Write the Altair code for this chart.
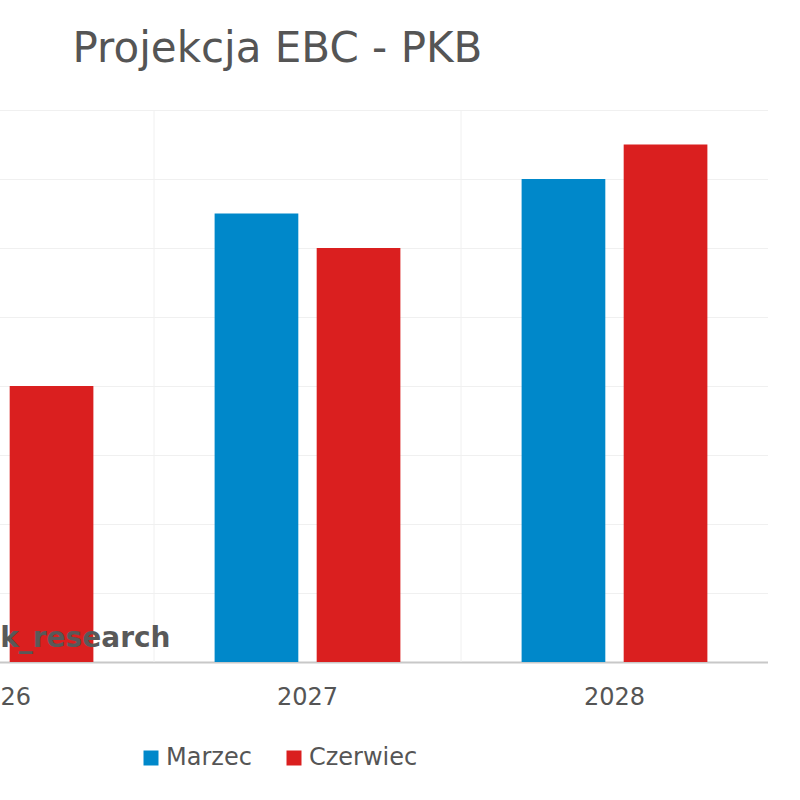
import altair as alt
import pandas as pd

years = ["2026", "2027", "2028"]
series = ["Marzec", "Czerwiec"]
marzec = [0.9, 1.3, 1.4]
czerwiec = [0.8, 1.2, 1.5]
colors = ["#0088CA", "#DA1F1F"]
y_ticks = [0.0, 0.2, 0.4, 0.6, 0.8, 1.0, 1.2, 1.4, 1.6]
title_text = "Projekcja EBC - PKB"
watermark = ["mbank_research"]

rows = []
for i, yr in enumerate(years):
    rows.append({"rok": yr, "seria": "Marzec", "wartosc": marzec[i]})
    rows.append({"rok": yr, "seria": "Czerwiec", "wartosc": czerwiec[i]})
df = pd.DataFrame(rows)
df_years = pd.DataFrame({"rok": years})

FONT = "DejaVu Sans"
GRID = "#f0f0f0"
XSCALE = alt.Scale(paddingInner=0.335, paddingOuter=0.1675)
XAXIS = alt.Axis(title=None, labelAngle=0, labelFontSize=24, labelColor="#555555",
                 labelFont=FONT, labelPadding=23, ticks=False, bandPosition=0.5,
                 domainColor="#c8c8c8", domainWidth=2, grid=False)

bars = alt.Chart(df).mark_bar().encode(
    x=alt.X("rok:N", sort=years, scale=XSCALE, axis=XAXIS),
    xOffset=alt.XOffset("seria:N", sort=series,
                        scale=alt.Scale(paddingInner=0.18, paddingOuter=0.09)),
    y=alt.Y("wartosc:Q", scale=alt.Scale(domain=[0, 1.6], nice=False),
            axis=alt.Axis(title=None, values=y_ticks, labels=False, ticks=False,
                          domain=False, grid=True, gridColor=GRID)),
    color=alt.Color("seria:N", sort=series,
                    scale=alt.Scale(domain=series, range=colors),
                    legend=alt.Legend(title=None, orient="none", legendX=292, legendY=636,
                                      direction="horizontal", symbolType="square",
                                      symbolSize=225, symbolStrokeWidth=0,
                                      labelFontSize=24, labelColor="#555555", labelFont=FONT,
                                      columnPadding=30, labelOffset=3, padding=0)),
)

vgrid = alt.Chart(df_years).mark_rule(color=GRID, strokeWidth=1, xOffset=-51.4).encode(
    x=alt.X("rok:N", sort=years, scale=XSCALE, bandPosition=0, axis=XAXIS)
)

wm = alt.Chart(pd.DataFrame({"t": watermark})).mark_text(
    align="right", baseline="alphabetic", dx=170, dy=-15,
    fontSize=28, fontWeight="bold", color="#595959", font=FONT
).encode(x=alt.datum("2026"), y=alt.datum(0), text="t:N")

chart = alt.layer(bars, vgrid, wm).properties(
    width=921, height=552,
    padding={"left": -153, "top": 110, "right": 0, "bottom": 138},
    autosize="none",
    background="white",
    title=alt.TitleParams(title_text, anchor="start", dx=226, fontSize=42, font=FONT,
                          fontWeight="normal", color="#555555", baseline="alphabetic",
                          offset=6),
).configure_view(stroke=GRID)

chart.save("out.html", embed_options={"renderer": "svg", "actions": False})
